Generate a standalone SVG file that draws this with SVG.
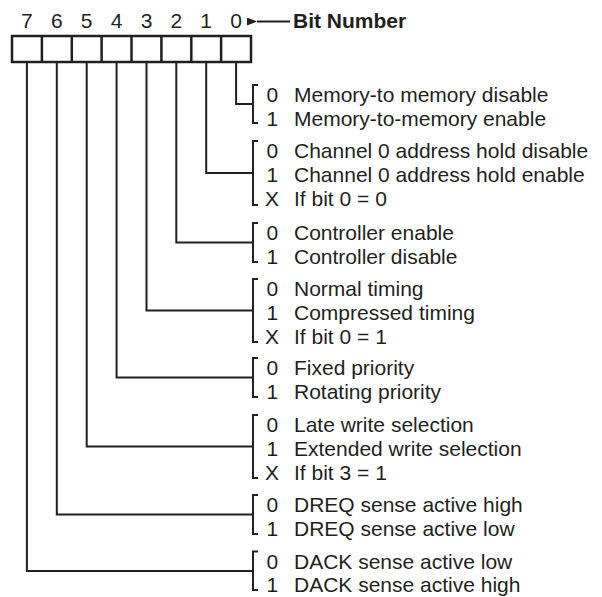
<svg xmlns="http://www.w3.org/2000/svg" width="602" height="597" viewBox="0 0 602 597">
<defs>
<style>
text{font-family:"Liberation Sans",Arial,Helvetica,sans-serif;font-size:21px;fill:#231f20}
.b{font-weight:bold}
.h{text-anchor:middle}
.ln{fill:none;stroke:#231f20;stroke-width:2}
.box{fill:#fff;stroke:#231f20;stroke-width:2.5}
</style>
<marker id="ah" viewBox="0 0 10 8" refX="0" refY="4" markerWidth="10" markerHeight="8" markerUnits="userSpaceOnUse" orient="auto-start-reverse">
<path d="M0,4 L10,0 L10,8 Z" fill="#231f20"/>
</marker>
</defs>
<rect width="602" height="597" fill="#fff"/>
<g id="register">
<rect class="box" x="12" y="36" width="239" height="26"/>
<path class="ln" style="stroke-width:2.5" d="M41.9,36V62M71.8,36V62M101.6,36V62M131.5,36V62M161.4,36V62M191.3,36V62M221.1,36V62"/>
<text class="h" x="26.9" y="28">7</text>
<text class="h" x="56.8" y="28">6</text>
<text class="h" x="86.7" y="28">5</text>
<text class="h" x="116.6" y="28">4</text>
<text class="h" x="146.5" y="28">3</text>
<text class="h" x="176.3" y="28">2</text>
<text class="h" x="206.2" y="28">1</text>
<text class="h" x="236.1" y="28">0</text>
</g>
<g id="bit-number-label">
<path class="ln" d="M257,21.5H290" marker-start="url(#ah)"/>
<text class="b" x="293" y="28">Bit Number</text>
</g>
<g id="connectors">
<path class="ln" d="M236.1,62V104H253"/>
<path class="ln" d="M206.2,62V173H253"/>
<path class="ln" d="M176.3,62V242.5H253"/>
<path class="ln" d="M146.5,62V310.5H253"/>
<path class="ln" d="M116.6,62V377.5H253"/>
<path class="ln" d="M86.7,62V446.5H253"/>
<path class="ln" d="M56.8,62V514.5H253"/>
<path class="ln" d="M26.9,62V571H253"/>
</g>
<g id="bit0">
<path class="ln" d="M258,85H253V123H258"/>
<text x="266.5" y="102">0</text><text x="294" y="102">Memory-to memory disable</text>
<text x="266.5" y="125.5">1</text><text x="294" y="125.5">Memory-to-memory enable</text>
</g>
<g id="bit1">
<path class="ln" d="M258,141H253V205H258"/>
<text x="266.5" y="158">0</text><text x="294" y="158">Channel 0 address hold disable</text>
<text x="266.5" y="182">1</text><text x="294" y="182">Channel 0 address hold enable</text>
<text x="265" y="206">X</text><text x="294" y="206">If bit 0 = 0</text>
</g>
<g id="bit2">
<path class="ln" d="M258,223H253V262H258"/>
<text x="266.5" y="240">0</text><text x="294" y="240">Controller enable</text>
<text x="266.5" y="264">1</text><text x="294" y="264">Controller disable</text>
</g>
<g id="bit3">
<path class="ln" d="M258,279H253V342H258"/>
<text x="266.5" y="296">0</text><text x="294" y="296">Normal timing</text>
<text x="266.5" y="320">1</text><text x="294" y="320">Compressed timing</text>
<text x="265" y="344">X</text><text x="294" y="344">If bit 0 = 1</text>
</g>
<g id="bit4">
<path class="ln" d="M258,358H253V397H258"/>
<text x="266.5" y="375">0</text><text x="294" y="375">Fixed priority</text>
<text x="266.5" y="399">1</text><text x="294" y="399">Rotating priority</text>
</g>
<g id="bit5">
<path class="ln" d="M258,415H253V478H258"/>
<text x="266.5" y="432">0</text><text x="294" y="432">Late write selection</text>
<text x="266.5" y="456">1</text><text x="294" y="456">Extended write selection</text>
<text x="265" y="480">X</text><text x="294" y="480">If bit 3 = 1</text>
</g>
<g id="bit6">
<path class="ln" d="M258,495H253V534H258"/>
<text x="266.5" y="512">0</text><text x="294" y="512">DREQ sense active high</text>
<text x="266.5" y="536">1</text><text x="294" y="536">DREQ sense active low</text>
</g>
<g id="bit7">
<path class="ln" d="M258,551.5H253V590H258"/>
<text x="266.5" y="568.5">0</text><text x="294" y="568.5">DACK sense active low</text>
<text x="266.5" y="592">1</text><text x="294" y="592">DACK sense active high</text>
</g>
</svg>
